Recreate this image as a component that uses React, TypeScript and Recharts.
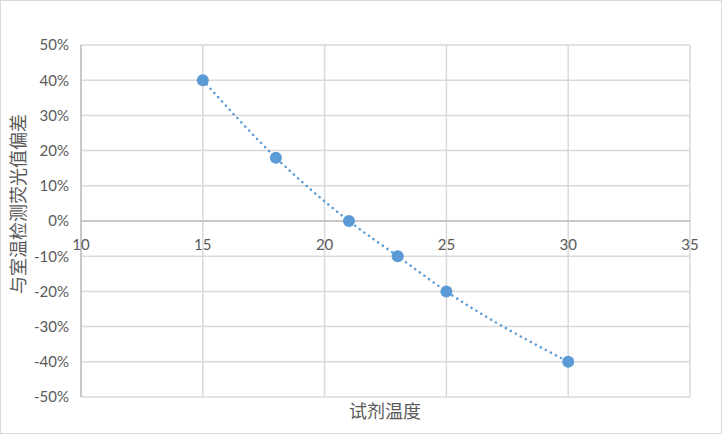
import { ComposedChart, Line, Scatter, XAxis, YAxis, CartesianGrid, ReferenceLine } from 'recharts';

const temperatures = [15, 18, 21, 23, 25, 30];
const deviations = [0.4, 0.18, 0, -0.1, -0.2, -0.4];
const xTicks = [10, 15, 20, 25, 30, 35];
const yTicks = [-0.5, -0.4, -0.3, -0.2, -0.1, 0, 0.1, 0.2, 0.3, 0.4, 0.5];

const data = temperatures.map((t, i) => ({ t, dev: deviations[i] }));

const W = 722;
const H = 434;
const X_AXIS_H = 37;
const MARGIN = { top: 45, right: 32, bottom: 0, left: 0 };
const PLOT_H = H - MARGIN.top - X_AXIS_H;
const ZERO_Y = MARGIN.top + PLOT_H / 2;

const LABEL_FONT = 'Lato, "Noto Sans", sans-serif';
const CJK_FONT = '"Noto Sans CJK SC", sans-serif';
const TEXT = '#595959';
const BLUE = '#5B9BD5';

// Excel puts the category labels where the axis crosses 0, not at the bottom
const XTick = ({ x, payload }: any) => (
    <text x={x} y={ZERO_Y + 29} textAnchor="middle" fill={TEXT} fontSize={15} fontFamily={LABEL_FONT}>
        {payload.value}
    </text>
);

const YTitle = () => (
    <text
        x={17}
        y={204}
        transform="rotate(-90 17 204)"
        textAnchor="middle"
        dominantBaseline="central"
        fill={TEXT}
        fontSize={18}
        fontFamily={CJK_FONT}
    >
        与室温检测荧光值偏差
    </text>
);

const XTitle = () => (
    <text x={385} y={418} textAnchor="middle" fill={TEXT} fontSize={18} fontFamily={CJK_FONT}>
        试剂温度
    </text>
);

export default function App() {
    return (
        <div style={{ position: 'absolute', left: 0, top: 0, width: W, height: H, border: '1px solid #d9d9d9', boxSizing: 'border-box', background: '#fff' }}>
            <div style={{ position: 'absolute', left: -1, top: -1 }}>
                <ComposedChart width={W} height={H} data={data} margin={MARGIN}>
                    <CartesianGrid stroke="#d9d9d9" strokeWidth={1.5} />
                    <XAxis
                        type="number"
                        dataKey="t"
                        domain={[10, 35]}
                        ticks={xTicks}
                        axisLine={false}
                        tickLine={false}
                        tickSize={0}
                        tick={<XTick />}
                        height={X_AXIS_H}
                        label={<XTitle />}
                    />
                    <YAxis
                        type="number"
                        domain={[-0.5, 0.5]}
                        ticks={yTicks}
                        width={81}
                        axisLine={{ stroke: '#bfbfbf', strokeWidth: 1.5 }}
                        tickLine={false}
                        tickSize={0}
                        tickMargin={12}
                        tick={{ fill: TEXT, fontSize: 15, fontFamily: LABEL_FONT }}
                        tickFormatter={(v: number) => `${Math.round(v * 100)}%`}
                        label={<YTitle />}
                    />
                    <ReferenceLine y={0} stroke="#bfbfbf" strokeWidth={1.5} />
                    <Line
                        type="monotone"
                        dataKey="dev"
                        stroke={BLUE}
                        strokeWidth={2.5}
                        strokeDasharray="0.1 5.6"
                        strokeLinecap="round"
                        dot={false}
                        activeDot={false}
                        isAnimationActive={false}
                    />
                    <Scatter dataKey="dev" fill={BLUE} shape={(p: any) => <circle cx={p.cx} cy={p.cy} r={6} fill={BLUE} />} isAnimationActive={false} />
                </ComposedChart>
            </div>
        </div>
    );
}
